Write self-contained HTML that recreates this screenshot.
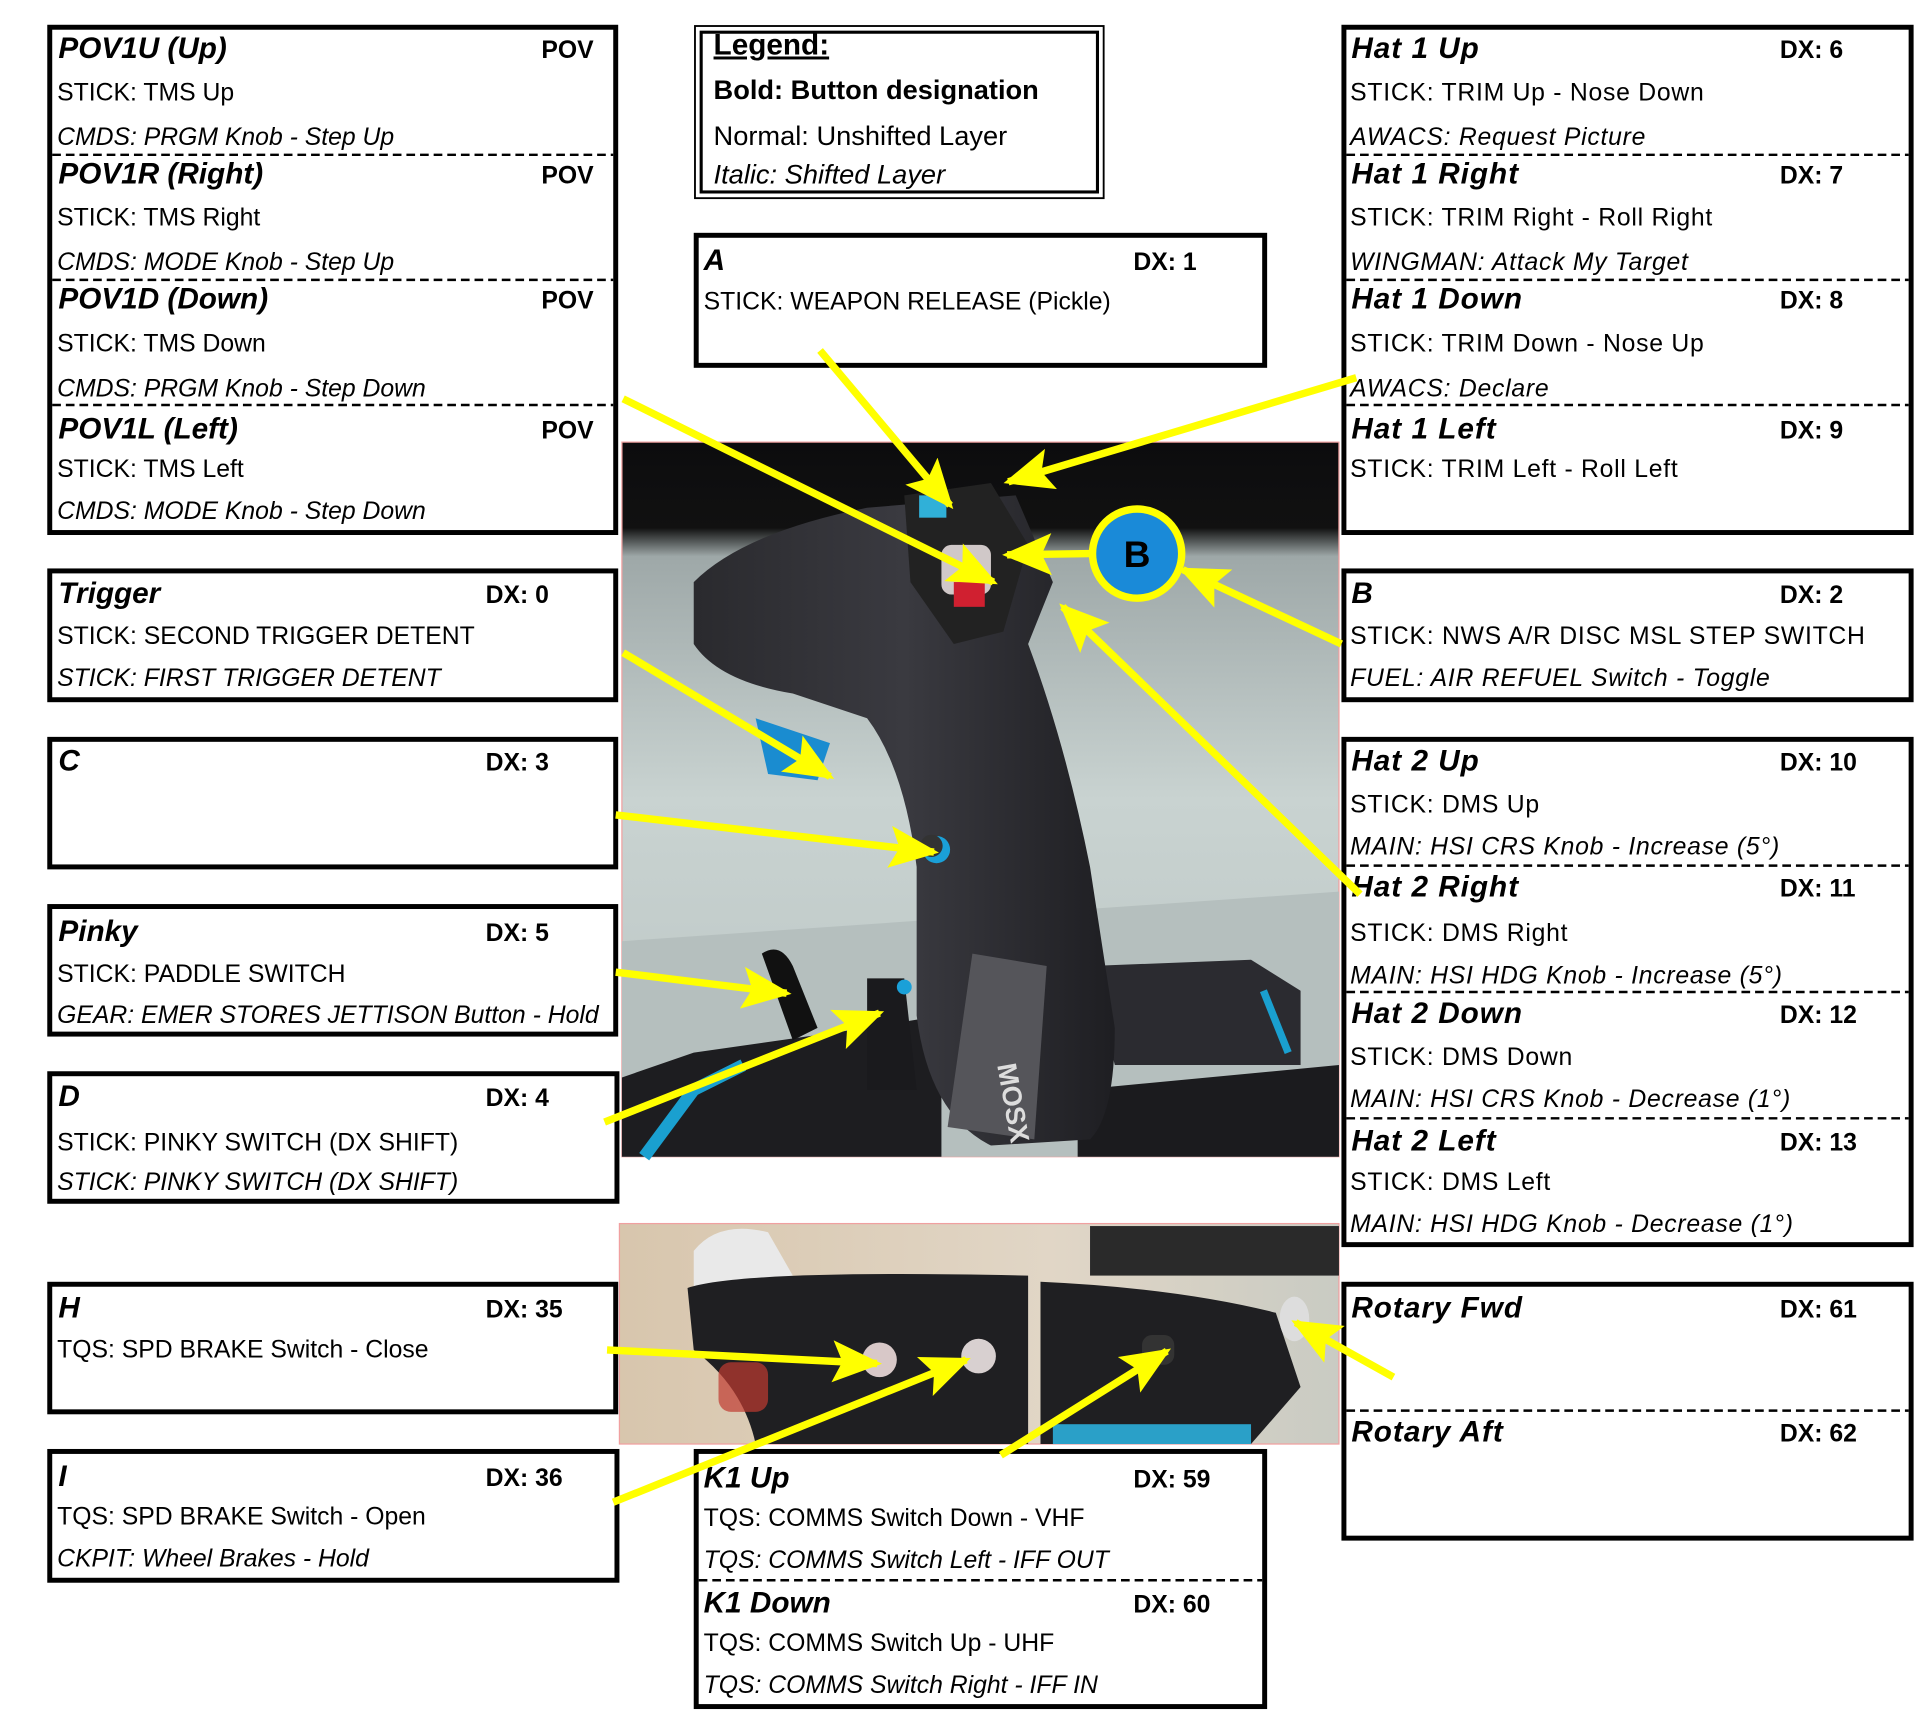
<!DOCTYPE html>
<html><head><meta charset="utf-8"><style>
html,body{margin:0;padding:0;background:#fff;width:1920px;height:1714px;overflow:hidden}
svg{display:block}
text{font-family:"Liberation Sans",Arial,sans-serif;fill:#000}
.t{font-size:24px;font-weight:bold;font-style:italic}
.d{font-size:20px;font-weight:bold}
.n{font-size:20px}
.i{font-size:20px;font-style:italic}
.r .n,.r .i{letter-spacing:0.6px}
.r .t{letter-spacing:0.8px}
.bx{fill:#fff;stroke:#000;stroke-width:4}
.ds{stroke:#000;stroke-width:2;stroke-dasharray:7,4}
.ar{stroke:#ffff00;stroke-width:6;fill:none;marker-end:url(#ah)}
</style></head><body>
<svg width="1920" height="1714" viewBox="0 0 1550 1384" xmlns="http://www.w3.org/2000/svg">
<defs>
<marker id="ah" markerUnits="userSpaceOnUse" markerWidth="40" markerHeight="34" refX="36" refY="17" orient="auto">
<path d="M0,0 L40,17 L0,34 L8,17 Z" fill="#ffff00"/>
</marker>
<linearGradient id="bg1" x1="0" y1="0" x2="0" y2="1">
<stop offset="0" stop-color="#0c0c0e"/><stop offset="0.12" stop-color="#111"/><stop offset="0.16" stop-color="#9ea8a8"/><stop offset="0.5" stop-color="#c9d3d1"/><stop offset="1" stop-color="#b9c3c2"/>
</linearGradient>
<linearGradient id="stk" x1="0" y1="0" x2="1" y2="0">
<stop offset="0" stop-color="#2a2a2e"/><stop offset="0.5" stop-color="#3a3a40"/><stop offset="1" stop-color="#1e1e22"/>
</linearGradient>
<linearGradient id="bg2" x1="0" y1="0" x2="1" y2="0">
<stop offset="0" stop-color="#d8c6ad"/><stop offset="0.6" stop-color="#e1d6c6"/><stop offset="1" stop-color="#c9cbc3"/>
</linearGradient>
</defs>

<!-- Photo 1 -->
<rect x="502" y="357" width="579" height="577" fill="url(#bg1)" stroke="#f0a0a0" stroke-width="1"/>
<path d="M502,760 L1081,720 L1081,934 L502,934 Z" fill="#b5bfbe"/>
<path d="M502,870 L560,850 L700,830 L760,820 L760,934 L502,934 Z" fill="#1d1d20"/>
<path d="M520,934 L560,880 L600,860" stroke="#1aa0d0" stroke-width="10" fill="none"/>
<path d="M880,780 L1010,775 L1050,800 L1050,860 L900,860 Z" fill="#2b2b30"/>
<path d="M1020,800 L1040,850" stroke="#1aa0d0" stroke-width="6"/>
<path d="M870,880 L1081,860 L1081,934 L870,934 Z" fill="#1b1b1e"/>
<path d="M560,470 Q600,430 700,410 L820,400 L850,470 L830,520 Q860,600 880,700 L900,830 Q900,900 880,920 L800,925 Q750,900 740,820 L740,700 Q730,620 700,580 L640,560 Q580,550 560,520 Z" fill="url(#stk)"/>
<path d="M610,580 L670,600 L660,630 L620,625 Z" fill="#1a8cd0"/>
<rect x="745" y="675" width="22" height="22" rx="11" fill="#1aa0d8"/>
<circle cx="752" cy="683" r="9" fill="#333"/>
<path d="M730,400 L800,390 L830,440 L810,510 L770,520 L735,470 Z" fill="#222"/>
<rect x="760" y="440" width="40" height="40" rx="8" fill="#d0c8c8"/>
<rect x="770" y="470" width="25" height="20" fill="#d02030"/>
<rect x="742" y="400" width="22" height="18" fill="#30b0d8"/>
<path d="M765,910 L785,770 L845,780 L835,920 Z" fill="#55555a"/>
<text x="805" y="860" transform="rotate(80 805 860)" style="font-size:22px;font-weight:bold;fill:#ddd">MOSX</text>
<path d="M615,770 Q630,760 640,780 L660,830 L640,840 Z" fill="#111"/>
<path d="M700,790 L730,790 L740,880 L700,880 Z" fill="#1a1a1d"/>
<circle cx="730" cy="797" r="6" fill="#1aa0d8"/>

<!-- Photo 2 -->
<rect x="500" y="988" width="581" height="178" fill="url(#bg2)" stroke="#f0a0a0" stroke-width="1"/>
<rect x="880" y="990" width="201" height="40" fill="#2a2a2a"/>
<path d="M560,1010 Q580,985 620,995 L640,1030 L560,1040 Z" fill="#e9e9e9"/>
<path d="M555,1040 Q600,1025 830,1030 L830,1166 L610,1166 Q600,1120 560,1090 Z" fill="#1f1f22"/>
<path d="M840,1035 Q950,1040 1030,1060 L1050,1120 L1010,1166 L840,1166 Z" fill="#1f1f22"/>
<ellipse cx="1045" cy="1065" rx="12" ry="18" fill="#ddd"/>
<circle cx="710" cy="1098" r="14" fill="#d8c8c8"/>
<circle cx="790" cy="1095" r="14" fill="#d8d0d0"/>
<rect x="922" y="1078" width="26" height="24" rx="8" fill="#333"/>
<rect x="580" y="1100" width="40" height="40" rx="10" fill="#c03a30" opacity="0.7"/>
<rect x="850" y="1150" width="160" height="16" fill="#2aa0c8"/>

<!-- POV box -->
<rect class="bx" x="40" y="22" width="457" height="408"/>
<line class="ds" x1="42" y1="125" x2="495" y2="125"/>
<line class="ds" x1="42" y1="226" x2="495" y2="226"/>
<line class="ds" x1="42" y1="327" x2="495" y2="327"/>
<text class="t" x="47" y="47">POV1U (Up)</text><text class="d" x="437" y="47">POV</text>
<text class="n" x="46" y="81">STICK: TMS Up</text>
<text class="i" x="46" y="117">CMDS: PRGM Knob - Step Up</text>
<text class="t" x="47" y="148">POV1R (Right)</text><text class="d" x="437" y="148">POV</text>
<text class="n" x="46" y="182">STICK: TMS Right</text>
<text class="i" x="46" y="218">CMDS: MODE Knob - Step Up</text>
<text class="t" x="47" y="249">POV1D (Down)</text><text class="d" x="437" y="249">POV</text>
<text class="n" x="46" y="284">STICK: TMS Down</text>
<text class="i" x="46" y="320">CMDS: PRGM Knob - Step Down</text>
<text class="t" x="47" y="354">POV1L (Left)</text><text class="d" x="437" y="354">POV</text>
<text class="n" x="46" y="385">STICK: TMS Left</text>
<text class="i" x="46" y="419">CMDS: MODE Knob - Step Down</text>

<!-- Legend -->
<rect x="561" y="21" width="330" height="139" fill="#fff" stroke="#000" stroke-width="1.5"/>
<rect x="566" y="26" width="320" height="129" fill="none" stroke="#000" stroke-width="2.5"/>
<text x="576" y="44" style="font-size:24px;font-weight:bold;text-decoration:underline">Legend:</text>
<text x="576" y="80" style="font-size:22px;font-weight:bold">Bold: Button designation</text>
<text x="576" y="117" style="font-size:22px">Normal: Unshifted Layer</text>
<text x="576" y="148" style="font-size:22px;font-style:italic">Italic:  Shifted Layer</text>

<!-- A box -->
<rect class="bx" x="562" y="190" width="459" height="105"/>
<text class="t" x="568" y="218">A</text><text class="d" x="915" y="218">DX: 1</text>
<text class="n" x="568" y="250">STICK: WEAPON RELEASE (Pickle)</text>

<!-- Hat 1 box -->
<g class="r">
<rect class="bx" x="1085" y="22" width="458" height="408"/>
<line class="ds" x1="1087" y1="125" x2="1541" y2="125"/>
<line class="ds" x1="1087" y1="226" x2="1541" y2="226"/>
<line class="ds" x1="1087" y1="327" x2="1541" y2="327"/>
<text class="t" x="1091" y="47">Hat 1 Up</text><text class="d" x="1437" y="47">DX: 6</text>
<text class="n" x="1090" y="81">STICK: TRIM Up - Nose Down</text>
<text class="i" x="1090" y="117">AWACS: Request Picture</text>
<text class="t" x="1091" y="148">Hat 1 Right</text><text class="d" x="1437" y="148">DX: 7</text>
<text class="n" x="1090" y="182">STICK: TRIM Right - Roll Right</text>
<text class="i" x="1090" y="218">WINGMAN: Attack My Target</text>
<text class="t" x="1091" y="249">Hat 1 Down</text><text class="d" x="1437" y="249">DX: 8</text>
<text class="n" x="1090" y="284">STICK: TRIM Down - Nose Up</text>
<text class="i" x="1090" y="320">AWACS: Declare</text>
<text class="t" x="1091" y="354">Hat 1 Left</text><text class="d" x="1437" y="354">DX: 9</text>
<text class="n" x="1090" y="385">STICK: TRIM Left - Roll Left</text>

<!-- B box -->
<rect class="bx" x="1085" y="461" width="458" height="104"/>
<text class="t" x="1091" y="487">B</text><text class="d" x="1437" y="487">DX: 2</text>
<text class="n" x="1090" y="520">STICK: NWS A/R DISC MSL STEP SWITCH</text>
<text class="i" x="1090" y="554">FUEL: AIR REFUEL Switch - Toggle</text>

<!-- Hat 2 -->
<rect class="bx" x="1085" y="597" width="458" height="408"/>
<line class="ds" x1="1087" y1="699" x2="1541" y2="699"/>
<line class="ds" x1="1087" y1="801" x2="1541" y2="801"/>
<line class="ds" x1="1087" y1="903" x2="1541" y2="903"/>
<text class="t" x="1091" y="622">Hat 2 Up</text><text class="d" x="1437" y="622">DX: 10</text>
<text class="n" x="1090" y="656">STICK: DMS Up</text>
<text class="i" x="1090" y="690">MAIN: HSI CRS Knob - Increase (5°)</text>
<text class="t" x="1091" y="724">Hat 2 Right</text><text class="d" x="1437" y="724">DX: 11</text>
<text class="n" x="1090" y="760">STICK: DMS Right</text>
<text class="i" x="1090" y="794">MAIN: HSI HDG Knob - Increase (5°)</text>
<text class="t" x="1091" y="826">Hat 2 Down</text><text class="d" x="1437" y="826">DX: 12</text>
<text class="n" x="1090" y="860">STICK: DMS Down</text>
<text class="i" x="1090" y="894">MAIN: HSI CRS Knob - Decrease (1°)</text>
<text class="t" x="1091" y="929">Hat 2 Left</text><text class="d" x="1437" y="929">DX: 13</text>
<text class="n" x="1090" y="961">STICK: DMS Left</text>
<text class="i" x="1090" y="995">MAIN: HSI HDG Knob - Decrease (1°)</text>

<!-- Rotary -->
<rect class="bx" x="1085" y="1037" width="458" height="205"/>
<line class="ds" x1="1087" y1="1139" x2="1541" y2="1139"/>
<text class="t" x="1091" y="1064">Rotary Fwd</text><text class="d" x="1437" y="1064">DX: 61</text>
<text class="t" x="1091" y="1164">Rotary Aft</text><text class="d" x="1437" y="1164">DX: 62</text>
</g>

<!-- Trigger -->
<rect class="bx" x="40" y="461" width="457" height="104"/>
<text class="t" x="47" y="487">Trigger</text><text class="d" x="392" y="487">DX: 0</text>
<text class="n" x="46" y="520">STICK: SECOND TRIGGER DETENT</text>
<text class="i" x="46" y="554">STICK: FIRST TRIGGER DETENT</text>

<!-- C -->
<rect class="bx" x="40" y="597" width="457" height="103"/>
<text class="t" x="47" y="622">C</text><text class="d" x="392" y="622">DX: 3</text>

<!-- Pinky -->
<rect class="bx" x="40" y="732" width="457" height="103"/>
<text class="t" x="47" y="760">Pinky</text><text class="d" x="392" y="760">DX: 5</text>
<text class="n" x="46" y="793">STICK: PADDLE SWITCH</text>
<text class="i" x="46" y="826">GEAR: EMER STORES JETTISON Button - Hold</text>

<!-- D -->
<rect class="bx" x="40" y="867" width="458" height="103"/>
<text class="t" x="47" y="893">D</text><text class="d" x="392" y="893">DX: 4</text>
<text class="n" x="46" y="929">STICK: PINKY SWITCH (DX SHIFT)</text>
<text class="i" x="46" y="961">STICK: PINKY SWITCH (DX SHIFT)</text>

<!-- H -->
<rect class="bx" x="40" y="1037" width="457" height="103"/>
<text class="t" x="47" y="1064">H</text><text class="d" x="392" y="1064">DX: 35</text>
<text class="n" x="46" y="1096">TQS: SPD BRAKE Switch - Close</text>

<!-- I -->
<rect class="bx" x="40" y="1172" width="458" height="104"/>
<text class="t" x="47" y="1200">I</text><text class="d" x="392" y="1200">DX: 36</text>
<text class="n" x="46" y="1231">TQS: SPD BRAKE Switch - Open</text>
<text class="i" x="46" y="1265">CKPIT: Wheel Brakes - Hold</text>

<!-- K1 -->
<rect class="bx" x="562" y="1172" width="459" height="206"/>
<line class="ds" x1="564" y1="1276" x2="1019" y2="1276"/>
<text class="t" x="568" y="1201">K1 Up</text><text class="d" x="915" y="1201">DX: 59</text>
<text class="n" x="568" y="1232">TQS: COMMS Switch Down - VHF</text>
<text class="i" x="568" y="1266">TQS: COMMS Switch Left - IFF OUT</text>
<text class="t" x="568" y="1302">K1 Down</text><text class="d" x="915" y="1302">DX: 60</text>
<text class="n" x="568" y="1333">TQS: COMMS Switch Up - UHF</text>
<text class="i" x="568" y="1367">TQS: COMMS Switch Right - IFF IN</text>

<!-- arrows -->
<line class="ar" x1="503" y1="322" x2="802" y2="470"/>
<line class="ar" x1="662" y1="283" x2="767" y2="408"/>
<line class="ar" x1="1095" y1="305" x2="814" y2="389"/>
<line class="ar" x1="880" y1="447" x2="813" y2="448"/>
<line class="ar" x1="1083" y1="520" x2="955" y2="460"/>
<line class="ar" x1="1098" y1="722" x2="858" y2="490"/>
<line class="ar" x1="503" y1="527" x2="670" y2="627"/>
<line class="ar" x1="497" y1="658" x2="754" y2="688"/>
<line class="ar" x1="497" y1="785" x2="635" y2="802"/>
<line class="ar" x1="488" y1="906" x2="710" y2="818"/>
<line class="ar" x1="490" y1="1090" x2="708" y2="1101"/>
<line class="ar" x1="495" y1="1213" x2="780" y2="1098"/>
<line class="ar" x1="808" y1="1175" x2="942" y2="1091"/>
<line class="ar" x1="1125" y1="1112" x2="1046" y2="1068"/>

<!-- B circle -->
<circle cx="918" cy="447" r="36" fill="#1a8ad8" stroke="#ffff00" stroke-width="6"/>
<text x="918" y="458" text-anchor="middle" style="font-size:30px;font-weight:bold">B</text>
</svg>
</body></html>
